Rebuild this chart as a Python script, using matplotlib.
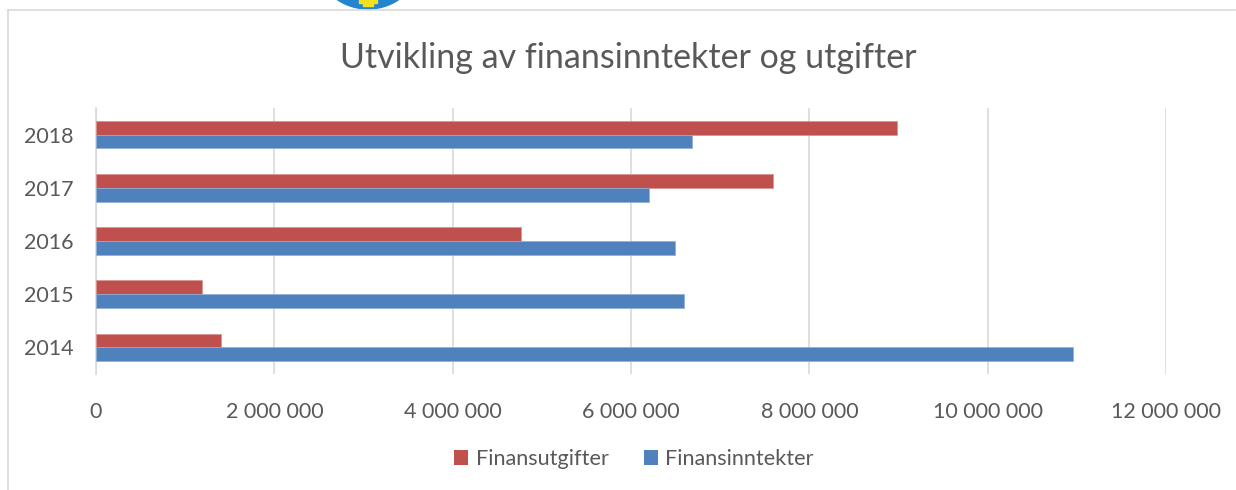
import matplotlib
matplotlib.use("Agg")
import matplotlib.pyplot as plt
from matplotlib.patches import Circle, Rectangle
from matplotlib.lines import Line2D
from matplotlib.ticker import FuncFormatter

years = ["2014", "2015", "2016", "2017", "2018"]
finansutgifter = [1400000, 1190000, 4770000, 7590000, 8980000]
finansinntekter = [10960000, 6590000, 6490000, 6200000, 6680000]
xticks = [0, 2000000, 4000000, 6000000, 8000000, 10000000, 12000000]

plt.rcParams['font.family'] = ['Lato', 'DejaVu Sans']
TXT = '#595959'
GRID = '#D9D9D9'
RED = '#C0504D'
BLUE = '#4F81BD'

W, H = 1236, 490
fig = plt.figure(figsize=(W / 100, H / 100), dpi=100)
fig.patch.set_facecolor('white')

# chart border (top and left visible)
fig.add_artist(Line2D([8 / W, 1235 / W], [1 - 10 / H, 1 - 10 / H], color=GRID, lw=1.2, transform=fig.transFigure))
fig.add_artist(Line2D([8 / W, 8 / W], [1 - 10 / H, 0], color=GRID, lw=1.2, transform=fig.transFigure))

# partial logo at the top
logo = fig.add_axes([0, 0, 1, 1], zorder=0)
logo.set_xlim(0, W)
logo.set_ylim(H, 0)
logo.axis('off')
logo.add_patch(Circle((368, -46), 55, color='#2385CF', zorder=1))
logo.add_patch(Rectangle((363, -2), 10, 8, color='#F2E21B', zorder=2))
logo.add_patch(Rectangle((359, 0), 18, 3, color='#F2E21B', zorder=2))

ax = fig.add_axes([96 / W, 1 - 374 / H, (1166 - 96) / W, (374 - 108) / H], zorder=2)
ax.patch.set_alpha(0)
y = list(range(len(years)))
h = 0.26
ax.barh([v + h / 2 for v in y], finansutgifter, height=h, color=RED, edgecolor='#D9908E', linewidth=0.5, label='Finansutgifter', zorder=3)
ax.barh([v - h / 2 for v in y], finansinntekter, height=h, color=BLUE, edgecolor='#8FAED6', linewidth=0.5, label='Finansinntekter', zorder=3)

ax.set_xlim(0, 12000000)
ax.set_ylim(-0.5, 4.5)
ax.set_xticks(xticks)
ax.xaxis.set_major_formatter(FuncFormatter(lambda v, p: f"{int(v):,}".replace(",", " ")))
ax.set_yticks(y)
ax.set_yticklabels(years)
ax.grid(axis='x', color=GRID, lw=1.2, zorder=0)
for s in ['top', 'right', 'bottom']:
    ax.spines[s].set_visible(False)
ax.spines['left'].set_color(GRID)
ax.spines['left'].set_linewidth(1.2)
ax.tick_params(axis='both', length=0, labelsize=15.5, colors=TXT)
ax.tick_params(axis='x', pad=20)
ax.tick_params(axis='y', pad=16)

fig.text(628 / W, 1 - 58 / H, 'Utvikling av finansinntekter og utgifter', ha='center', va='center', fontsize=24.5, color=TXT)

handles, labels = ax.get_legend_handles_labels()
leg = fig.legend(handles, labels, loc='center', bbox_to_anchor=(634 / W, 1 - 459 / H), ncol=2, frameon=False,
                 fontsize=15.6, handlelength=0.65, handleheight=0.65, handletextpad=0.35, columnspacing=1.6)
for t in leg.get_texts():
    t.set_color(TXT)
for p in leg.get_patches():
    p.set_edgecolor('none')

fig.savefig('out.png', dpi=100)
